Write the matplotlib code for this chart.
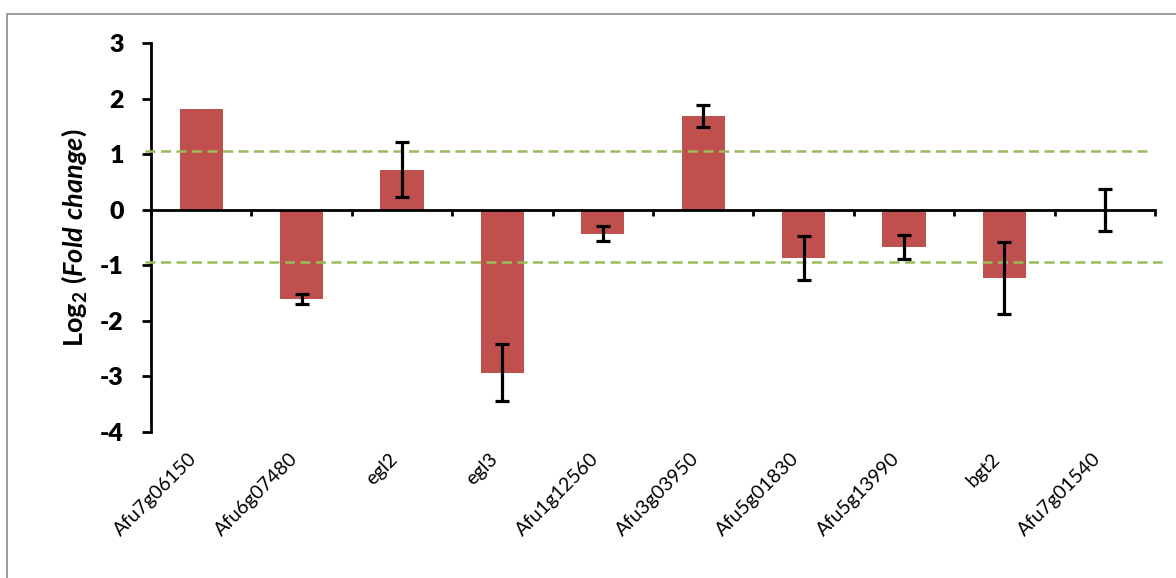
import numpy as np
import matplotlib.pyplot as plt
from matplotlib.patches import Rectangle
import matplotlib.transforms as mtransforms

plt.rcParams['font.family'] = ['Lato', 'DejaVu Sans']
plt.rcParams['axes.unicode_minus'] = False
plt.rcParams['mathtext.fontset'] = 'custom'
plt.rcParams['mathtext.rm'] = 'Lato:bold'
plt.rcParams['mathtext.bf'] = 'Lato:bold'
plt.rcParams['mathtext.it'] = 'Lato:bold:italic'

# Log2 fold change per gene, with standard deviation (nan = no error bar)
genes = ['Afu7g06150', 'Afu6g07480', 'egl2', 'egl3', 'Afu1g12560',
         'Afu3g03950', 'Afu5g01830', 'Afu5g13990', 'bgt2', 'Afu7g01540']
log2_fc = [1.82, -1.60, 0.72, -2.93, -0.43, 1.69, -0.87, -0.67, -1.23, 0.0]
err = [np.nan, 0.09, 0.50, 0.52, 0.135, 0.195, 0.40, 0.21, 0.65, 0.38]
# cut-off lines
upper_cut = 1.05
lower_cut = -0.94

fig = plt.figure(figsize=(11.76, 5.78), dpi=100)
ax = fig.add_axes([0.1284, 0.2526, 0.8537, 0.673])

ind = np.arange(len(genes))
ax.bar(ind, log2_fc, 0.43, color='#C0504D', zorder=2)

err = np.array(err)
has_err = ~np.isnan(err)
ax.errorbar(ind[has_err], np.array(log2_fc)[has_err], yerr=err[has_err],
            fmt='none', ecolor='black', elinewidth=2.3, capsize=5,
            capthick=2.3, zorder=4)

# dashed threshold lines (drawn a bit past the plot area)
ax.plot([-0.56, 9.45], [upper_cut, upper_cut], ls=(0, (4, 2.2)),
        color='#9BBB59', lw=1.8, clip_on=False, zorder=3)
ax.plot([-0.56, 9.57], [lower_cut, lower_cut], ls=(0, (4, 2.2)),
        color='#9BBB59', lw=1.8, clip_on=False, zorder=3)

ax.set_xlim(-0.5, 9.5)
ax.set_ylim(-4, 3)

for side in ['top', 'right']:
    ax.spines[side].set_visible(False)
ax.spines['bottom'].set_position(('data', 0))
ax.spines['bottom'].set_linewidth(2)
ax.spines['left'].set_linewidth(2)
ax.spines['bottom'].set_zorder(3)

ax.set_xticks(np.arange(-0.5, 10, 1))
ax.set_xticklabels([])
ax.tick_params(axis='x', direction='out', length=4, width=2)

yt = list(range(-4, 4))
ax.set_yticks(yt)
ax.set_yticklabels([str(v) for v in yt], fontsize=18, fontweight='heavy')
ax.tick_params(axis='y', direction='out', length=6.5, width=2, pad=13)

# gene names below the plot
trans = mtransforms.blended_transform_factory(ax.transData, ax.transAxes)
offset = mtransforms.ScaledTranslation(-13 / 100, -18 / 100, fig.dpi_scale_trans)
for i, g in enumerate(genes):
    ax.text(i, 0, g, transform=trans + offset, rotation=45, ha='right',
            va='top', rotation_mode='anchor', fontsize=14)

ax.set_ylabel(r'$\mathrm{Log_2\ (}\mathit{Fold\ change}\mathrm{)}$', fontsize=19.5,
              labelpad=8)

# chart area border
fig.patches.append(Rectangle((7 / 1176, -0.1), 1.2, 1 - 14 / 578 + 0.1,
                             transform=fig.transFigure, fill=False,
                             edgecolor='#8C8C8C', lw=1.2))

fig.savefig('out.png', dpi=100)
